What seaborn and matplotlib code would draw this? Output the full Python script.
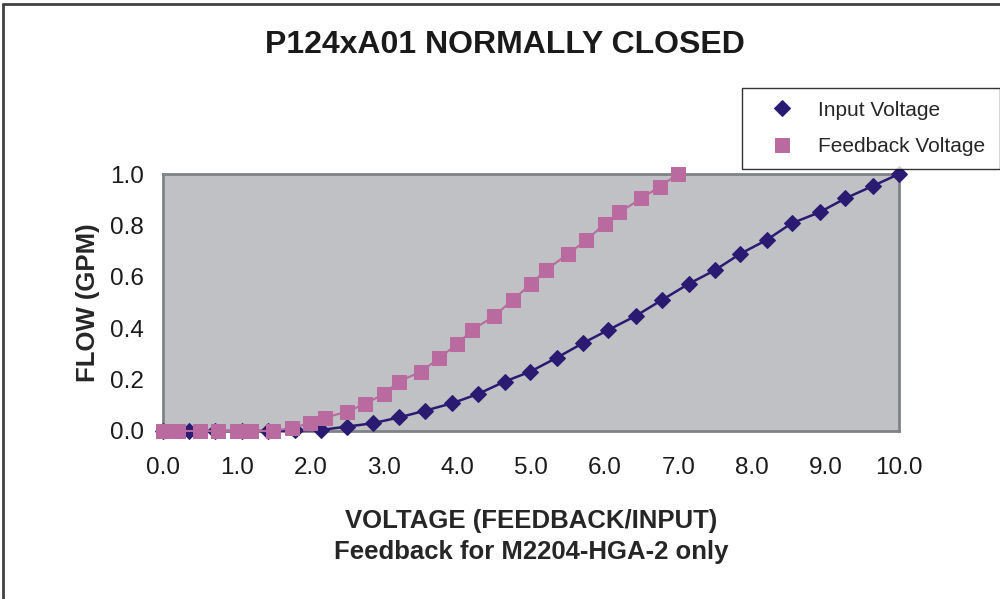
import matplotlib
matplotlib.use("Agg")
import matplotlib.pyplot as plt
import seaborn as sns
import pandas as pd
from matplotlib.lines import Line2D

# ---------------------------------------------
# DATA
# ---------------------------------------------
input_volts = [0.0, 0.35, 0.71, 1.07, 1.43, 1.79, 2.14, 2.5, 2.85, 3.21,
               3.56, 3.93, 4.28, 4.64, 4.99, 5.35, 5.70, 6.05, 6.43, 6.78,
               7.14, 7.50, 7.84, 8.20, 8.54, 8.92, 9.27, 9.64, 10.0]
input_flow = [0.0, 0.0, 0.0, 0.0, 0.0, 0.002, 0.004, 0.017, 0.03, 0.053,
              0.079, 0.108, 0.144, 0.192, 0.231, 0.285, 0.341, 0.393, 0.449, 0.51,
              0.572, 0.626, 0.689, 0.743, 0.808, 0.851, 0.905, 0.953, 1.0]

feedback_volts = [0.0, 0.2, 0.5, 0.75, 1.0, 1.2, 1.5, 1.75, 2.0, 2.2,
                  2.5, 2.75, 3.0, 3.2, 3.5, 3.75, 4.0, 4.2, 4.5, 4.75,
                  5.0, 5.2, 5.5, 5.75, 6.0, 6.2, 6.5, 6.75, 7.0]
feedback_flow = [0.0, 0.0, 0.0, 0.0, 0.0, 0.0, 0.0, 0.013, 0.03, 0.052,
                 0.075, 0.106, 0.144, 0.192, 0.23, 0.283, 0.339, 0.393, 0.447, 0.51,
                 0.572, 0.626, 0.688, 0.743, 0.805, 0.851, 0.905, 0.951, 1.0]

x_ticks = [0, 1, 2, 3, 4, 5, 6, 7, 8, 9, 10]
y_ticks = [0.0, 0.2, 0.4, 0.6, 0.8, 1.0]

NAVY = "#2b1a72"
PINK = "#b96a9e"

sns.set_style("white")
plt.rcParams["font.family"] = ["Liberation Sans", "DejaVu Sans"]

df_in = pd.DataFrame({"volts": input_volts, "flow": input_flow})
df_fb = pd.DataFrame({"volts": feedback_volts, "flow": feedback_flow})

fig = plt.figure(figsize=(10, 5.99), dpi=100)
ax = fig.add_axes([0.163, 0.2805, 0.736, 0.429])
ax.set_facecolor("#c0c1c5")

sns.lineplot(data=df_in, x="volts", y="flow", ax=ax, color=NAVY,
             marker="D", markersize=8, markeredgecolor=NAVY, linewidth=1.8,
             sort=False, estimator=None, label="Input Voltage", clip_on=False, zorder=3)
sns.lineplot(data=df_fb, x="volts", y="flow", ax=ax, color=PINK,
             marker="s", markersize=9.5, markeredgecolor=PINK, linewidth=1.5,
             sort=False, estimator=None, label="Feedback Voltage", clip_on=False, zorder=4)

ax.set_xlim(0, 10)
ax.set_ylim(0, 1.0)
ax.set_xticks(x_ticks)
ax.set_xticklabels([f"{t:.1f}" for t in x_ticks], fontsize=17.5, color="#1a1a1a")
ax.set_yticks(y_ticks)
ax.set_yticklabels([f"{t:.1f}" for t in y_ticks], fontsize=17.5, color="#1a1a1a")
ax.tick_params(axis="x", length=0, pad=19)
ax.tick_params(axis="y", length=0, pad=14)

for s in ax.spines.values():
    s.set_color("#808385")
    s.set_linewidth(2)
    s.set_visible(True)

ax.set_xlabel("VOLTAGE (FEEDBACK/INPUT)\nFeedback for M2204-HGA-2 only",
              fontsize=18.5, fontweight="bold", labelpad=21, linespacing=1.4)
ax.set_ylabel("FLOW (GPM)", fontsize=18.5, fontweight="bold", labelpad=7)

fig.text(0.505, 0.925, "P124xA01 NORMALLY CLOSED", ha="center", va="center",
         fontsize=23, fontweight="bold", color="#1a1a1a")

leg = ax.legend(loc="upper left", bbox_to_anchor=(0.742, 0.72, 0.258, 0.133),
                bbox_transform=fig.transFigure, mode="expand", frameon=True,
                fancybox=False, fontsize=15, handlelength=2.6, handletextpad=0.45,
                borderpad=0.6, labelspacing=0.85, borderaxespad=0)
leg.get_frame().set_edgecolor("black")
leg.get_frame().set_linewidth(1)
for h in leg.legend_handles:
    h.set_linestyle("none")

# outer chart border (top and left visible in reference)
fig.add_artist(Line2D([0.003, 1.0], [0.993, 0.993], color="#404040", lw=2,
                      transform=fig.transFigure))
fig.add_artist(Line2D([0.003, 0.003], [0.0, 0.993], color="#404040", lw=2,
                      transform=fig.transFigure))

fig.savefig("out.png", dpi=100)
